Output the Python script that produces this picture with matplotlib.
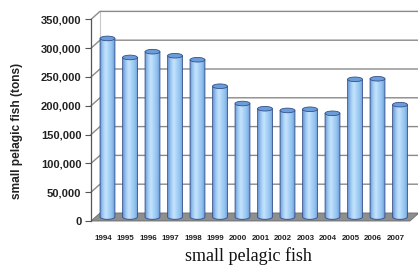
import numpy as np
import matplotlib
matplotlib.use('Agg')
import matplotlib.pyplot as plt
from matplotlib.patches import Polygon, Ellipse
from matplotlib.colors import LinearSegmentedColormap
from matplotlib.ticker import FuncFormatter

years = ['1994', '1995', '1996', '1997', '1998', '1999', '2000',
         '2001', '2002', '2003', '2004', '2005', '2006', '2007']
catch = [310000, 277000, 287000, 280000, 273000, 227000, 197000,
         188000, 185000, 187000, 180000, 239000, 240000, 195000]
yticks = [0, 50000, 100000, 150000, 200000, 250000, 300000, 350000]

# fake 3d depth offsets (data units)
dx, dy = 0.4, 13900
xl, xr = -0.533, 14.0
ytop = 364583
bw, eh = 0.66, 8000

fig = plt.figure(figsize=(4.18, 2.68), dpi=100)
ax = fig.add_axes([91/418, 47/268, (418-91)/418, 210/268])
ax.set_xlim(xl, xr); ax.set_ylim(0, ytop)
for s in ['top', 'right', 'bottom']:
    ax.spines[s].set_visible(False)
ax.spines['left'].set_bounds(0, 350000)
ax.spines['left'].set_color('#555555'); ax.spines['left'].set_linewidth(0.9)

# back wall + side wall grid
ax.add_patch(Polygon([(xl+dx, dy), (xr, dy), (xr, 350000+dy), (xl+dx, 350000+dy)],
                     closed=True, fc='white', ec='none', zorder=0))
ax.plot([xl+dx, xl+dx], [dy, 350000+dy], color='#c8c8c8', lw=0.8, zorder=1, clip_on=False)
for v in yticks[1:]:
    ax.plot([xl, xl+dx, xr], [v, v+dy, v+dy], color='#8a8a8a', lw=1.0, zorder=1, clip_on=False)

# floor
ax.add_patch(Polygon([(xl, 0), (13.64, 0), (13.64+dx, dy), (xl+dx, dy)], closed=True,
                     fc='#8e8e8e', ec='#6a6a6a', lw=0.6, zorder=2, clip_on=False))

# cylinders
cmap = LinearSegmentedColormap.from_list('cyl', ['#6a9ad6', '#a2ccf4', '#c6e3fb', '#a8d2f7',
                                                  '#92c2ee', '#6a9ad6'])
grad = np.linspace(0, 1, 64).reshape(1, -1)
for i, v in enumerate(catch):
    xc = i + dx/2
    x0, x1 = xc - bw/2, xc + bw/2
    yb, yt = dy/2, v + dy/2
    t = np.linspace(np.pi, 2*np.pi, 30)
    verts = [(x0, yt)] + [(xc + bw/2*np.cos(a), yb + eh/2*np.sin(a)) for a in t] + [(x1, yt), (x0, yt)]
    body = Polygon(verts, closed=True, fc='none', ec='#34508c', lw=0.6, zorder=4)
    ax.add_patch(body)
    im = ax.imshow(grad, cmap=cmap, extent=[x0, x1, yb - eh/2, yt], aspect='auto', zorder=3,
                   interpolation='bilinear')
    im.set_clip_path(body)
    ax.add_patch(Ellipse((xc, yt), bw, eh, fc='#6b9ddb', ec='#34508c', lw=0.6, zorder=5))

ax.set_xlim(xl, xr); ax.set_ylim(0, ytop)

ax.set_yticks(yticks)
ax.yaxis.set_major_formatter(FuncFormatter(lambda v, p: f'{int(v):,}'))
ax.tick_params(axis='y', length=4, width=0.8, color='#555555', pad=3,
               labelsize=8)
for lb in ax.get_yticklabels():
    lb.set_fontweight('bold'); lb.set_family('Liberation Sans'); lb.set_color('#222222')

ax.set_xticks(range(len(years)))
ax.set_xticklabels(years, fontsize=5.8, fontweight='bold', family='Liberation Sans', color='#222222')
ax.tick_params(axis='x', length=0, pad=10)

fig.text(17/418, 1 - 131/268, 'small pelagic fish (tons)', rotation=90, ha='center', va='center',
         fontsize=8.6, fontweight='bold', family='Liberation Sans', color='#222222')
fig.text(248/418, 1 - 256/268, 'small pelagic fish', ha='center', va='center',
         fontsize=13, family='Liberation Serif', color='#111111')

fig.savefig('out.png', dpi=100)
